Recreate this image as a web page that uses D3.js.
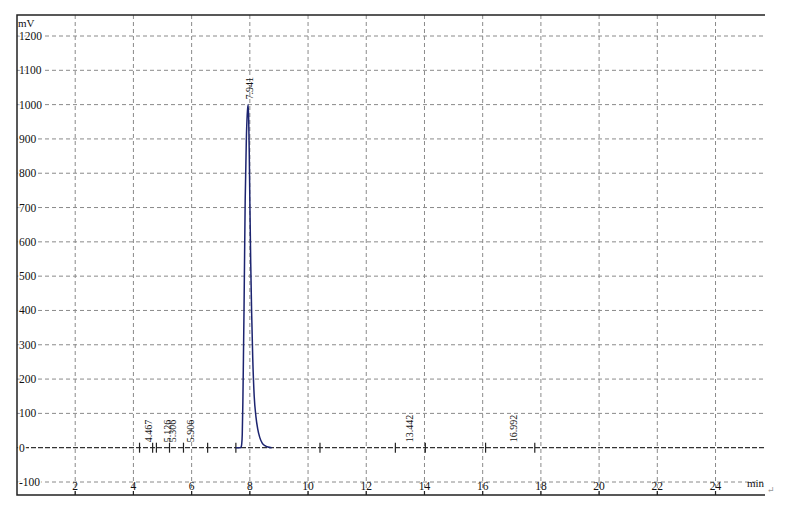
<!DOCTYPE html>
<html><head><meta charset="utf-8">
<script src="https://cdn.jsdelivr.net/npm/d3@7"></script>
<style>body{margin:0;background:#fff}svg{display:block}</style>
</head><body>
<svg id="c" width="800" height="522"></svg>
<script>
const xTicks = [2,4,6,8,10,12,14,16,18,20,22,24];
const yTicks = [-100,0,100,200,300,400,500,600,700,800,900,1000,1100,1200];
const peakTimes = [4.467,5.126,5.306,5.906,7.941,13.442,16.992];
const peakLabels = ["4.467","5.126","5.306","5.906","7.941","13.442","16.992"];
const peakHeights = [1,1,1,1,1000,1,1];
const markerTimes = [4.21,4.66,4.79,5.24,5.72,6.55,7.52,10.41,13.0,14.03,16.1,17.79];
const traceTime = [7.52,7.60,7.68,7.70,7.72,7.74,7.76,7.78,7.80,7.84,7.88,7.91,7.941,7.96,7.98,8.00,8.03,8.06,8.10,8.15,8.21,8.27,8.34,8.42,8.52,8.62,8.75];
const traceMv   = [0,0,0,2,10,40,130,260,400,720,900,970,1000,960,860,720,540,400,260,150,90,55,30,14,6,2,0];

(function(){
const svg = d3.select("#c");
const x = d3.scaleLinear().domain([0,25.7]).range([17,765]);
const y = d3.scaleLinear().domain([-100,1200]).range([482,36]);
const fTop = 15, fBottom = 495, fLeft = 17, fRight = 765;
const font = "'Liberation Serif', 'DejaVu Serif', serif";

svg.append("g").selectAll("line").data(xTicks).join("line")
  .attr("x1", d=>x(d)).attr("x2", d=>x(d)).attr("y1", fTop).attr("y2", fBottom)
  .attr("stroke","#8a8a8a").attr("stroke-width",1).attr("stroke-dasharray","4,3");
svg.append("g").selectAll("line").data(yTicks.filter(d=>d!==0)).join("line")
  .attr("x1", fLeft).attr("x2", 763).attr("y1", d=>y(d)).attr("y2", d=>y(d))
  .attr("stroke","#8a8a8a").attr("stroke-width",1).attr("stroke-dasharray","4,3");
svg.append("line").attr("x1",fLeft).attr("x2",765).attr("y1",y(0)).attr("y2",y(0))
  .attr("stroke","#333").attr("stroke-width",1.2).attr("stroke-dasharray","5,2");

svg.append("g").selectAll("line").data(markerTimes).join("line")
  .attr("x1", d=>x(d)).attr("x2", d=>x(d)).attr("y1", y(0)-5).attr("y2", y(0)+5)
  .attr("stroke","#222").attr("stroke-width",1.2);

const line = d3.line().x((d,i)=>x(traceTime[i])).y((d,i)=>y(traceMv[i])).curve(d3.curveMonotoneX);
svg.append("path").datum(traceMv).attr("d", line)
  .attr("fill","none").attr("stroke","#1c2470").attr("stroke-width",1.5);

svg.append("g").selectAll("text").data(peakTimes).join("text")
  .attr("transform",(d,i)=>`translate(${x(d)+1.5},${y(peakHeights[i])-5}) rotate(-90)`)
  .attr("dy","0.35em")
  .attr("font-family",font).attr("font-size","10px").attr("fill","#111")
  .text((d,i)=>peakLabels[i]);

svg.append("g").selectAll("text").data(yTicks).join("text")
  .attr("x", 19).attr("y", d=>y(d)).attr("dy","0.35em")
  .attr("font-family",font).attr("font-size","11.5px").attr("fill","#111")
  .attr("stroke","#fff").attr("stroke-width",3).attr("paint-order","stroke")
  .text(d=>d);

svg.append("g").selectAll("text").data(xTicks).join("text")
  .attr("x", d=>x(d)).attr("y", 490).attr("text-anchor","middle")
  .attr("font-family",font).attr("font-size","11.5px").attr("fill","#111")
  .text(d=>d);
svg.append("g").selectAll("line").data(xTicks).join("line")
  .attr("x1", d=>x(d)).attr("x2", d=>x(d)).attr("y1", fBottom-4).attr("y2", fBottom)
  .attr("stroke","#222").attr("stroke-width",1.2);

svg.append("path").attr("d",`M${fRight},${fTop}H${fLeft}V${fBottom}H${fRight}`)
  .attr("fill","none").attr("stroke","#222").attr("stroke-width",1.5);

svg.append("text").attr("x",18).attr("y",27).attr("font-family",font).attr("font-size","11px").attr("fill","#111").text("mV");
svg.append("text").attr("x",747).attr("y",487).attr("font-family",font).attr("font-size","11px").attr("fill","#111").text("min");
svg.append("text").attr("x",767).attr("y",493).attr("font-family",font).attr("font-size","9px").attr("fill","#999").text("↵");
})();
</script>
</body></html>
